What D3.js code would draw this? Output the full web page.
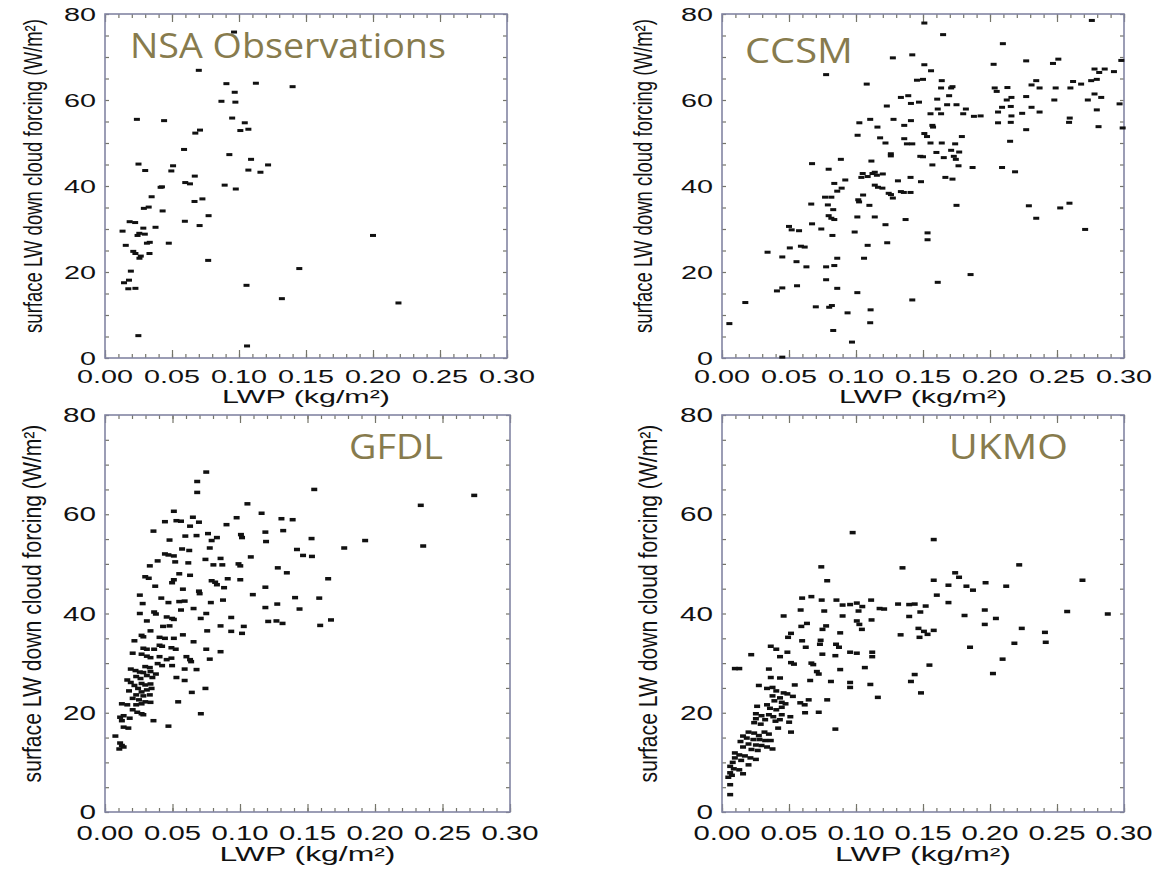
<!DOCTYPE html>
<html>
<head>
<meta charset="utf-8">
<script src="https://cdn.jsdelivr.net/npm/d3@7"></script>
<style>
  body { margin: 0; background: #fff; }
  svg { display: block; }
</style>
</head>
<body>
<div id="chart"></div>
<script>
// Tick values and labels
const xTickValues = [0, 0.05, 0.10, 0.15, 0.20, 0.25, 0.30];
const xTickLabels = ["0.00", "0.05", "0.10", "0.15", "0.20", "0.25", "0.30"];
const yTickValues = [0, 20, 40, 60, 80];
const yTickLabels = ["0", "20", "40", "60", "80"];
const panelTitles = ["NSA Observations", "CCSM", "GFDL", "UKMO"];
const xLabel = "LWP (kg/m\u00B2)";
const yLabel = "surface LW down cloud forcing (W/m\u00B2)";

// [LWP, forcing] pairs
const nsaObs = [
  [0.0963,75.8],[0.070,66.9],[0.0906,63.8],[0.1126,63.9],[0.140,63.1],[0.0968,61.8],[0.0869,59.7],
  [0.0973,59.5],[0.0238,55.5],[0.0441,55.2],[0.0949,55.8],[0.1043,54.7],[0.0709,53.0],[0.0674,52.3],
  [0.101,52.9],[0.107,53.2],[0.059,48.5],[0.0928,47.3],[0.109,46.2],[0.1217,44.9],[0.025,45.1],
  [0.0508,44.7],[0.0495,43.5],[0.030,43.6],[0.107,43.7],[0.116,43.2],[0.067,42.3],[0.0425,39.8],
  [0.0415,39.7],[0.0893,40.2],[0.0976,39.3],[0.0599,40.8],[0.0634,40.5],[0.0348,37.5],[0.0727,37.0],
  [0.0668,36.4],[0.029,34.8],[0.0326,35.1],[0.043,34.2],[0.0773,33.1],[0.0184,31.7],[0.0225,31.5],
  [0.0596,31.8],[0.0706,30.8],[0.0377,30.4],[0.0131,29.5],[0.0286,30.2],[0.0297,28.8],[0.0243,28.5],
  [0.0256,29.0],[0.0155,26.2],[0.0334,26.9],[0.0313,26.7],[0.0476,26.7],[0.0211,24.8],[0.0227,24.3],
  [0.0332,24.3],[0.0257,23.2],[0.0267,23.7],[0.077,22.7],[0.0193,20.2],[0.145,20.8],[0.200,28.5],
  [0.0142,17.5],[0.0179,18.1],[0.0174,16.1],[0.0227,16.2],[0.1056,16.9],[0.132,13.8],[0.219,12.8],
  [0.0249,5.2],[0.106,2.8]
];

const ccsm = [
  [0.151,77.9],[0.276,78.5],[0.165,75.2],[0.2096,73.1],[0.142,70.5],[0.1275,69.8],[0.227,69.1],
  [0.251,69.5],[0.247,68.5],[0.2027,68.3],[0.151,68.2],[0.298,69.2],[0.156,66.8],[0.0777,65.9],
  [0.278,67.2],[0.2856,67.2],[0.2925,66.6],[0.2815,66.4],[0.2797,64.8],[0.2755,64.5],[0.262,64.3],
  [0.268,63.7],[0.26,62.8],[0.1455,64.6],[0.150,64.8],[0.164,64.5],[0.108,63.7],[0.2345,64.5],
  [0.231,63.5],[0.237,62.8],[0.227,60.8],[0.249,62.8],[0.248,60.0],[0.2035,62.8],[0.205,62.0],
  [0.213,62.9],[0.171,62.8],[0.172,63.1],[0.1635,62.8],[0.1695,61.0],[0.1606,60.2],[0.216,60.6],
  [0.2125,60.0],[0.1335,60.6],[0.139,61.0],[0.141,59.2],[0.147,59.5],[0.278,61.4],[0.283,60.6],
  [0.273,60.0],[0.2967,59.1],[0.168,58.9],[0.175,58.9],[0.123,58.6],[0.182,57.9],[0.161,57.9],
  [0.209,58.3],[0.2155,58.5],[0.231,58.3],[0.2797,57.7],[0.206,57.2],[0.237,57.2],[0.224,56.9],
  [0.18,56.8],[0.1556,56.8],[0.1635,56.8],[0.216,56.3],[0.188,56.2],[0.193,56.3],[0.1106,55.5],
  [0.128,55.5],[0.141,55.2],[0.2595,55.8],[0.259,54.8],[0.1025,54.7],[0.206,54.7],[0.2155,54.8],
  [0.157,54.1],[0.1575,53.7],[0.136,54.1],[0.116,53.7],[0.227,53.1],[0.281,53.8],[0.299,53.5],
  [0.1012,51.8],[0.151,52.2],[0.153,51.5],[0.118,51.2],[0.179,51.5],[0.122,50.0],[0.136,51.0],
  [0.138,49.8],[0.142,49.8],[0.1556,50.0],[0.164,50.0],[0.174,49.8],[0.215,50.4],[0.171,48.3],
  [0.177,47.9],[0.160,47.8],[0.126,47.5],[0.126,47.0],[0.148,46.9],[0.150,46.8],[0.1655,46.6],
  [0.173,46.9],[0.1745,46.2],[0.0887,46.2],[0.1115,45.8],[0.0672,45.2],[0.157,44.9],[0.1765,44.7],
  [0.187,44.3],[0.209,44.3],[0.2187,43.3],[0.0796,43.9],[0.105,42.9],[0.1123,42.9],[0.114,43.2],
  [0.120,42.8],[0.104,42.0],[0.1087,42.2],[0.1156,42.5],[0.1407,42.0],[0.1667,42.0],[0.172,41.6],
  [0.1313,41.2],[0.1485,41.0],[0.092,41.4],[0.0838,40.6],[0.114,40.2],[0.1164,39.7],[0.1197,39.5],
  [0.0893,39.5],[0.086,38.8],[0.1244,38.3],[0.1261,38.0],[0.1335,38.7],[0.1357,38.5],[0.1407,38.5],
  [0.1053,37.9],[0.1275,37.2],[0.0769,37.4],[0.0816,37.4],[0.1017,36.8],[0.1023,36.3],[0.0666,35.8],
  [0.079,35.6],[0.110,35.5],[0.175,35.5],[0.229,35.4],[0.2593,36.0],[0.2524,34.9],[0.083,34.5],
  [0.2345,32.5],[0.0796,33.1],[0.0816,32.5],[0.0838,32.2],[0.101,32.8],[0.114,32.8],[0.137,32.2],
  [0.0672,31.2],[0.122,31.0],[0.050,30.6],[0.052,29.8],[0.0575,29.6],[0.0741,30.0],[0.271,29.9],
  [0.1534,29.1],[0.099,29.3],[0.0824,28.5],[0.1534,27.5],[0.1233,26.8],[0.1087,26.2],[0.0589,26.0],
  [0.0617,25.8],[0.0506,25.6],[0.034,24.6],[0.045,23.5],[0.106,23.2],[0.086,23.2],[0.0556,22.4],
  [0.0838,21.5],[0.0777,21.2],[0.063,21.2],[0.1855,19.4],[0.0777,18.2],[0.161,17.6],[0.056,16.8],
  [0.045,16.3],[0.041,15.6],[0.086,16.2],[0.101,15.2],[0.0174,12.9],[0.142,13.5],[0.070,11.9],
  [0.080,11.8],[0.082,12.2],[0.1109,11.2],[0.0937,10.5],[0.0055,8.0],[0.1106,8.2],[0.083,6.4],
  [0.097,3.7],[0.045,0.2]
];

const gfdl = [
  [0.075,68.5],[0.0683,66.6],[0.0683,64.4],[0.155,65.0],[0.2735,63.8],[0.1055,62.1],[0.2339,61.8],
  [0.051,60.6],[0.116,60.2],[0.0651,59.4],[0.0696,58.4],[0.0975,59.3],[0.1307,59.1],[0.139,58.9],
  [0.0529,58.7],[0.0563,58.6],[0.0444,58.5],[0.090,57.9],[0.063,57.6],[0.0359,56.6],[0.132,56.7],
  [0.1188,56.4],[0.0763,56.1],[0.1007,55.9],[0.0595,55.6],[0.0678,55.7],[0.0829,55.3],[0.079,54.7],
  [0.1015,55.3],[0.153,55.1],[0.0478,54.8],[0.1927,54.7],[0.1193,54.5],[0.2357,53.6],[0.1772,53.2],
  [0.0776,53.2],[0.0571,53.0],[0.0624,52.7],[0.1422,52.9],[0.0444,52.0],[0.047,51.8],[0.051,51.6],
  [0.1467,51.7],[0.1533,51.5],[0.108,51.4],[0.0856,51.1],[0.039,50.6],[0.0332,49.6],[0.052,50.4],
  [0.0617,50.2],[0.0744,50.9],[0.0803,49.8],[0.0869,49.8],[0.0989,50.0],[0.1002,49.6],[0.128,49.2],
  [0.1347,48.2],[0.063,47.7],[0.055,48.0],[0.0298,47.4],[0.0324,47.1],[0.051,46.8],[0.079,46.6],
  [0.0816,46.3],[0.1002,46.8],[0.0909,47.0],[0.1653,47.0],[0.0497,46.2],[0.0829,45.8],[0.0882,45.2],
  [0.0372,45.5],[0.1188,45.3],[0.0577,44.9],[0.0696,44.5],[0.0701,44.0],[0.1095,43.8],[0.0258,43.7],
  [0.1408,43.2],[0.1587,43.1],[0.0417,43.1],[0.0874,42.7],[0.055,42.4],[0.059,42.5],[0.047,42.2],
  [0.0784,42.2],[0.0279,42.0],[0.1276,41.9],[0.1188,41.2],[0.0656,41.0],[0.1441,40.9],[0.0563,40.7],
  [0.0364,40.3],[0.0377,39.9],[0.0258,40.0],[0.075,40.0],[0.0457,39.3],[0.0497,39.0],[0.051,38.8],
  [0.0709,39.0],[0.0935,39.2],[0.031,38.5],[0.1209,38.4],[0.127,38.5],[0.1315,38.0],[0.1674,38.7],
  [0.1594,37.6],[0.043,37.4],[0.0478,37.5],[0.0856,37.5],[0.1028,37.4],[0.0757,36.5],[0.0935,36.4],
  [0.1015,36.0],[0.0337,36.5],[0.0271,35.6],[0.0284,35.3],[0.0577,35.7],[0.0404,35.2],[0.0444,35.0],
  [0.051,35.0],[0.0218,34.5],[0.0656,34.3],[0.0404,33.6],[0.0423,33.4],[0.0284,33.0],[0.031,32.8],
  [0.0364,32.8],[0.0492,33.1],[0.0524,32.8],[0.075,32.8],[0.0856,32.3],[0.0205,32.0],[0.0271,31.8],
  [0.031,31.4],[0.0337,31.1],[0.0404,31.3],[0.0457,30.7],[0.0492,31.0],[0.0603,31.3],[0.063,30.7],
  [0.0638,30.3],[0.0776,30.8],[0.039,29.9],[0.0423,29.5],[0.0497,29.5],[0.0298,29.3],[0.0332,29.1],
  [0.059,28.8],[0.0678,28.7],[0.0191,28.8],[0.0226,28.5],[0.0258,28.2],[0.0284,28.1],[0.0337,28.3],
  [0.0377,27.8],[0.0231,27.3],[0.0263,26.9],[0.031,27.5],[0.0351,27.1],[0.0529,27.1],[0.059,26.5],
  [0.0165,26.6],[0.0191,26.1],[0.0271,25.9],[0.0298,25.6],[0.0337,25.8],[0.0218,25.5],[0.0245,24.9],
  [0.031,24.6],[0.0345,24.9],[0.0178,24.4],[0.0271,24.2],[0.0643,24.1],[0.0744,24.9],[0.0231,23.6],
  [0.0284,23.4],[0.0332,23.6],[0.0205,22.9],[0.0252,22.6],[0.0298,22.2],[0.0337,22.1],[0.0125,21.8],
  [0.0165,21.6],[0.0542,22.2],[0.0231,21.6],[0.0271,21.8],[0.0205,20.6],[0.0239,20.1],[0.0271,19.8],
  [0.0284,19.6],[0.071,19.8],[0.0112,19.1],[0.0138,19.4],[0.0183,18.9],[0.0125,18.4],[0.0359,18.4],
  [0.047,17.3],[0.0138,17.1],[0.0173,16.9],[0.0077,15.3],[0.0112,13.9],[0.0125,13.4],[0.0106,12.7],
  [0.0138,13.1]
];

const ukmo = [
  [0.0975,56.3],[0.158,54.9],[0.0741,49.4],[0.1347,49.2],[0.2218,49.8],[0.0785,46.6],[0.158,46.7],
  [0.174,48.2],[0.1769,47.3],[0.169,45.7],[0.1824,45.5],[0.1873,44.7],[0.1967,46.2],[0.2121,45.5],
  [0.269,46.7],[0.1603,43.7],[0.0598,43.1],[0.0667,43.4],[0.0744,42.7],[0.0854,42.7],[0.1113,42.7],
  [0.169,42.2],[0.1314,41.9],[0.1397,41.8],[0.1438,41.9],[0.090,41.7],[0.0956,41.8],[0.1006,42.1],
  [0.1047,41.4],[0.1176,41.0],[0.121,40.9],[0.152,41.5],[0.1019,40.5],[0.0587,40.7],[0.0763,40.5],
  [0.148,40.3],[0.1961,40.7],[0.2576,40.4],[0.2879,39.9],[0.046,39.5],[0.090,39.5],[0.181,39.6],
  [0.2044,39.0],[0.1397,39.4],[0.1006,38.5],[0.1025,37.8],[0.1044,36.8],[0.1116,38.7],[0.0777,37.5],
  [0.0592,37.4],[0.0634,38.0],[0.1961,37.8],[0.075,36.8],[0.1466,37.0],[0.1507,36.4],[0.158,36.6],
  [0.2237,37.0],[0.0515,36.0],[0.0882,36.1],[0.1333,35.7],[0.1534,35.8],[0.1474,35.2],[0.241,36.2],
  [0.2416,34.2],[0.0493,35.2],[0.0598,34.5],[0.0736,34.6],[0.0731,33.8],[0.0851,33.8],[0.0873,33.2],
  [0.0625,33.2],[0.0364,33.4],[0.0405,32.8],[0.2182,34.0],[0.1851,33.2],[0.0956,32.2],[0.1006,32.0],
  [0.1121,32.2],[0.1121,31.3],[0.0488,32.2],[0.0218,31.7],[0.0749,31.8],[0.0846,31.5],[0.0433,31.3],
  [0.0515,30.1],[0.0537,29.8],[0.0667,30.0],[0.0681,29.7],[0.2094,30.8],[0.1548,29.6],[0.1066,29.1],
  [0.035,28.8],[0.0129,28.9],[0.0096,28.9],[0.0882,28.7],[0.0708,28.3],[0.0722,27.8],[0.1438,27.7],
  [0.2022,27.9],[0.0364,27.1],[0.0433,27.0],[0.0658,26.5],[0.0813,26.3],[0.141,26.3],[0.0956,26.1],
  [0.0956,25.1],[0.1107,25.7],[0.0275,25.5],[0.0543,25.6],[0.0336,24.9],[0.0377,25.1],[0.0405,24.4],
  [0.046,24.0],[0.0488,23.8],[0.1485,24.0],[0.1163,23.1],[0.0377,23.4],[0.0433,23.0],[0.0529,23.3],
  [0.0647,22.6],[0.0785,22.6],[0.0391,22.4],[0.0446,22.1],[0.0474,21.8],[0.0584,22.0],[0.0617,21.6],
  [0.0336,21.6],[0.0262,21.3],[0.0358,20.9],[0.0405,20.6],[0.0446,21.1],[0.062,20.0],[0.0722,20.1],
  [0.0253,19.8],[0.0295,19.4],[0.035,19.6],[0.0383,19.2],[0.0446,19.6],[0.051,19.2],[0.0253,18.8],
  [0.0322,18.6],[0.0399,18.3],[0.0432,18.6],[0.024,18.0],[0.0289,17.7],[0.0419,16.9],[0.0501,18.1],
  [0.0846,16.7],[0.0515,16.1],[0.0198,16.1],[0.024,15.9],[0.0317,16.1],[0.035,15.7],[0.0275,15.4],
  [0.0157,15.3],[0.0185,14.9],[0.0234,14.6],[0.028,14.6],[0.0322,14.4],[0.0364,14.4],[0.0138,14.2],
  [0.0198,13.7],[0.0253,13.5],[0.0295,13.4],[0.0336,13.1],[0.0377,12.7],[0.0157,13.1],[0.022,12.6],
  [0.0267,12.4],[0.0096,11.9],[0.0129,11.5],[0.0171,11.3],[0.0212,10.9],[0.0253,10.6],[0.0096,10.9],
  [0.008,10.0],[0.0143,10.4],[0.0198,9.5],[0.0061,9.2],[0.0088,8.7],[0.0129,8.5],[0.0157,7.7],
  [0.0061,7.9],[0.0074,7.4],[0.0047,7.0],[0.0061,5.5],[0.0061,3.5]
];

const panelData = [nsaObs, ccsm, gfdl, ukmo];

// Panel boxes (plot area in page pixels) and text placement
const panels = [
  { left: 105, right: 507, top: 14, bottom: 358, tick: 18.5, xLab: 56, yLab: 16, xOff: 25, titleOff: 45,
    yTitleX: 42, yTitleLen: 314, markH: 3, titleX: 130, titleY: 58, titleLen: 316 },
  { left: 722, right: 1124, top: 14, bottom: 358, tick: 18.5, xLab: 56, yLab: 16, xOff: 25, titleOff: 45,
    yTitleX: 652, yTitleLen: 314, markH: 3, titleX: 745, titleY: 63, titleLen: 108 },
  { left: 105, right: 510, top: 415, bottom: 812, tick: 20, xLab: 57, yLab: 16.5, xOff: 28, titleOff: 49,
    yTitleX: 41, yTitleLen: 358, markH: 3.5, titleX: 349, titleY: 459, titleLen: 94 },
  { left: 722, right: 1124, top: 415, bottom: 812, tick: 20, xLab: 57, yLab: 16.5, xOff: 28, titleOff: 49,
    yTitleX: 657, yTitleLen: 358, markH: 3.5, titleX: 949, titleY: 459, titleLen: 119 }
];

const frameColor = "#8385a3";
const tickColor = "#75756a";
const titleColor = "#877b4d";

const svg = d3.select("#chart")
  .append("svg")
  .attr("width", 1160)
  .attr("height", 871)
  .style("font-family", "'Liberation Sans', Arial, sans-serif");

// Stretch or squeeze a text along its baseline to a target width (the original is resampled)
function fitText(sel, posFn, widthFn, rotate) {
  sel.each(function (d, k) {
    const w = this.getComputedTextLength();
    const s = widthFn(d, k) / w;
    const [tx, ty] = posFn(d, k);
    d3.select(this).attr("transform",
      `translate(${tx},${ty})${rotate ? " rotate(-90)" : ""} scale(${s},1)`);
  });
}

panels.forEach((p, i) => {
  const x = d3.scaleLinear().domain([0, 0.30]).range([p.left, p.right]);
  const y = d3.scaleLinear().domain([0, 80]).range([p.bottom, p.top]);
  const g = svg.append("g");

  // Inward ticks on all four sides
  const xMinor = d3.range(0, 31).map(k => k / 100);
  const yMinor = d3.range(0, 17).map(k => k * 5);
  const addAxis = (axis, transform) => {
    const a = g.append("g").attr("transform", transform).call(axis);
    a.select(".domain").remove();
    a.selectAll("line").attr("stroke", tickColor).attr("stroke-width", 1.2);
  };
  addAxis(d3.axisBottom(x).tickValues(xMinor).tickSize(-4).tickFormat(""), `translate(0,${p.bottom})`);
  addAxis(d3.axisBottom(x).tickValues(xTickValues).tickSize(-8).tickFormat(""), `translate(0,${p.bottom})`);
  addAxis(d3.axisTop(x).tickValues(xMinor).tickSize(-4).tickFormat(""), `translate(0,${p.top})`);
  addAxis(d3.axisTop(x).tickValues(xTickValues).tickSize(-8).tickFormat(""), `translate(0,${p.top})`);
  addAxis(d3.axisLeft(y).tickValues(yMinor).tickSize(-4).tickFormat(""), `translate(${p.left},0)`);
  addAxis(d3.axisRight(y).tickValues(yMinor).tickSize(-4).tickFormat(""), `translate(${p.right},0)`);

  // Frame
  g.append("rect")
    .attr("x", p.left).attr("y", p.top)
    .attr("width", p.right - p.left).attr("height", p.bottom - p.top)
    .attr("fill", "none").attr("stroke", frameColor).attr("stroke-width", 1.6);

  // Points
  g.selectAll(".pt")
    .data(panelData[i])
    .enter()
    .append("rect")
    .attr("class", "pt")
    .attr("x", d => x(d[0]) - 3)
    .attr("y", d => y(d[1]) - p.markH / 2)
    .attr("width", 6)
    .attr("height", p.markH)
    .attr("fill", "#111");

  // X tick labels (stretched wide like the original)
  const xl = g.selectAll(".xl")
    .data(xTickValues)
    .enter()
    .append("text")
    .attr("text-anchor", "middle")
    .attr("font-size", p.tick)
    .attr("fill", "#111")
    .text((d, k) => xTickLabels[k]);
  fitText(xl, d => [x(d), p.bottom + p.xOff], () => p.xLab);

  // Y tick labels
  const yl = g.selectAll(".yl")
    .data(yTickValues)
    .enter()
    .append("text")
    .attr("text-anchor", "end")
    .attr("font-size", p.tick)
    .attr("fill", "#111")
    .text((d, k) => yTickLabels[k]);
  fitText(yl, d => [p.left - 9, y(d) + p.tick * 0.36], (d, k) => yTickLabels[k].length * p.yLab);

  // X axis title
  const xt = g.append("text")
    .attr("text-anchor", "middle")
    .attr("font-size", p.tick)
    .attr("fill", "#111")
    .text(xLabel);
  fitText(xt, () => [(p.left + p.right) / 2, p.bottom + p.titleOff], () => (i < 2 ? 168 : 176));

  // Y axis title (condensed)
  const yt = g.append("text")
    .attr("text-anchor", "middle")
    .attr("font-size", 25)
    .attr("fill", "#111")
    .text(yLabel);
  fitText(yt, () => [p.yTitleX, (p.top + p.bottom) / 2 - 10], () => p.yTitleLen, true);

  // Panel title
  const pt = g.append("text")
    .attr("font-family", "'Open Sans', Lato, sans-serif")
    .attr("font-size", 34)
    .attr("fill", titleColor)
    .text(panelTitles[i]);
  fitText(pt, () => [p.titleX, p.titleY], () => p.titleLen);
});
</script>
</body>
</html>
